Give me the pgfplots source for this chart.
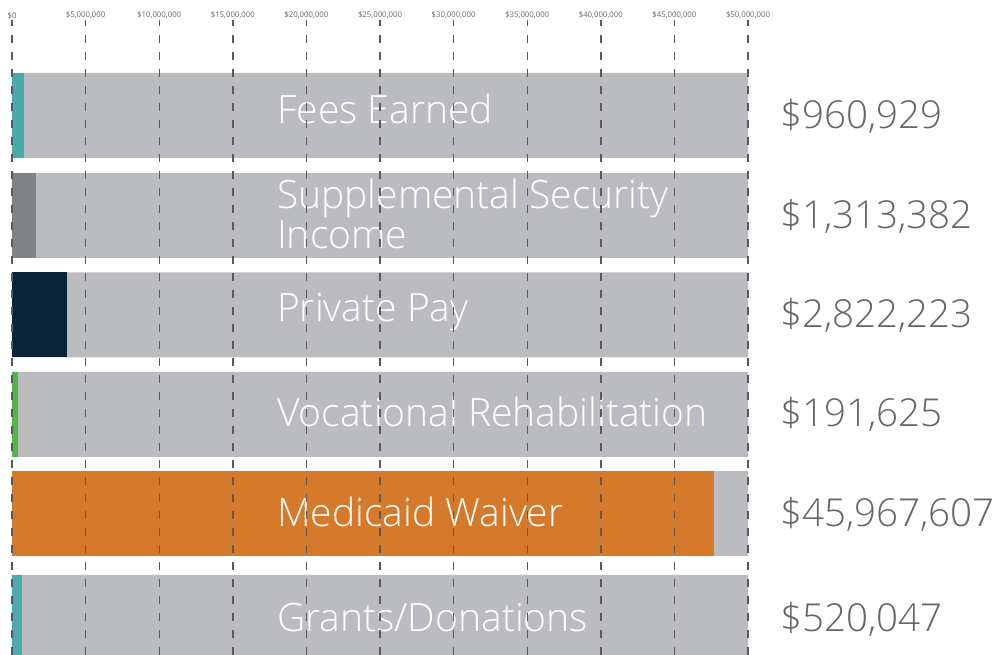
\documentclass[border=0pt]{standalone}
\usepackage{fontspec}
\setmainfont{Open Sans}
\newfontfamily\lightfont{Open Sans Light}
\usepackage{pgfplots}
\pgfplotsset{compat=1.18}
\definecolor{barbg}{HTML}{BBBCC0}
\definecolor{cteal}{HTML}{4AABAA}
\definecolor{cgray}{HTML}{808285}
\definecolor{cnavy}{HTML}{07243A}
\definecolor{cgreen}{HTML}{4DB848}
\definecolor{corange}{HTML}{D5792B}
\definecolor{txtgray}{HTML}{666666}
\definecolor{gridgray}{HTML}{5A5A5C}
\newcommand{\barfont}{\lightfont\fontsize{39}{40}\selectfont}
\newcommand{\valfont}{\lightfont\fontsize{38.5}{40}\selectfont}

\begin{document}
\begin{tikzpicture}[x=1pt,y=1pt]
\path[use as bounding box] (0,0) rectangle (996,655);
\begin{axis}[at={(12pt,0pt)},anchor=south west,scale only axis,
  width=736pt,height=635pt,xmin=0,xmax=50,ymin=-655,ymax=-20,
  axis line style={draw=none},ytick=\empty,major tick length=0pt,
  xtick={0,5,...,50},xticklabel pos=upper,
  xticklabels={{\$0},{\$5,000,000},{\$10,000,000},{\$15,000,000},{\$20,000,000},{\$25,000,000},
    {\$30,000,000},{\$35,000,000},{\$40,000,000},{\$45,000,000},{\$50,000,000}},
  xticklabel style={font=\fontsize{7.8}{8}\selectfont,text=txtgray,yshift=-2pt},
  xmajorgrids,grid style={gridgray,line width=1.4pt,dash pattern=on 8pt off 9pt},
  axis on top,clip=false,xbar,bar width=85,bar shift=0pt]
\addplot[fill=barbg,draw=none] coordinates
 {(50,-115.5)(50,-215.5)(50,-315)(50,-414.5)(50,-513.5)(50,-617.5)};
\addplot[fill=cteal,draw=none] coordinates {(0.82,-115.5)};
\addplot[fill=cgray,draw=none] coordinates {(1.65,-215.5)};
\addplot[fill=cnavy,draw=none] coordinates {(3.75,-315)};
\addplot[fill=cgreen,draw=none] coordinates {(0.4,-414.5)};
\addplot[fill=corange,draw=none] coordinates {(47.7,-513.5)};
\addplot[fill=cteal,draw=none] coordinates {(0.65,-617.5)};
\begin{scope}[every node/.style={anchor=west,inner sep=0pt,text=white,font=\barfont}]
\node at (axis cs:18,-109) {Fees Earned};
\node[align=left] at (axis cs:18,-214) {Supplemental Security\\Income};
\node at (axis cs:18,-312) {Private Pay};
\node at (axis cs:18,-412) {Vocational Rehabilitation};
\node at (axis cs:18,-512) {Medicaid Waiver};
\node at (axis cs:18,-618) {Grants/Donations};
\end{scope}
\begin{scope}[every node/.style={anchor=west,inner sep=0pt,text=txtgray,font=\valfont}]
\node at (axis cs:52.17,-116) {\$960,929};
\node at (axis cs:52.17,-216) {\$1,313,382};
\node at (axis cs:52.17,-315) {\$2,822,223};
\node at (axis cs:52.17,-414) {\$191,625};
\node at (axis cs:52.17,-514) {\$45,967,607};
\node at (axis cs:52.17,-619) {\$520,047};
\end{scope}
\end{axis}
\end{tikzpicture}
\end{document}
